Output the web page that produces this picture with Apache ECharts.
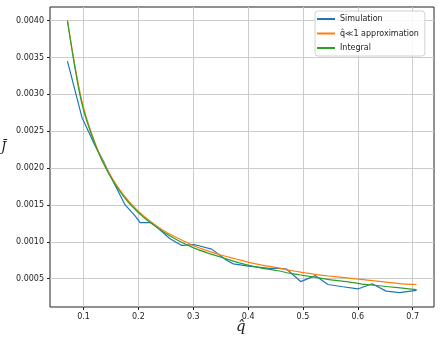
<!DOCTYPE html>
<html>
<head>
<meta charset="utf-8">
<script src="https://cdn.jsdelivr.net/npm/echarts@6/dist/echarts.min.js"></script>
<style>html,body{margin:0;padding:0;background:#fff}#c{width:441px;height:341px}</style>
</head>
<body>
<div id="c"></div>
<script>
// Theory curves (shared q grid)
const qTheory = [0.0707, 0.0961, 0.1216, 0.147, 0.1725, 0.1979, 0.2234, 0.2488, 0.2743, 0.2997, 0.3252, 0.3506, 0.3761, 0.4015, 0.427, 0.4524, 0.4779, 0.5033, 0.5288, 0.5542, 0.5797, 0.6051, 0.6306, 0.656, 0.6815, 0.707];
const approxJ = [0.00400, 0.00294, 0.00233, 0.00193, 0.00164, 0.00143, 0.00127, 0.00114, 0.00104, 0.00095, 0.00088, 0.00082, 0.00077, 0.00072, 0.00068, 0.00065, 0.00061, 0.00058, 0.00055, 0.00053, 0.00051, 0.00049, 0.00047, 0.00045, 0.00043, 0.00042];
const integralJ = [0.00400, 0.00290, 0.00231, 0.00191, 0.00162, 0.00141, 0.00125, 0.00112, 0.00101, 0.00092, 0.00085, 0.00079, 0.00073, 0.00068, 0.00064, 0.00061, 0.00057, 0.00054, 0.00051, 0.00048, 0.00046, 0.00043, 0.00041, 0.00039, 0.00037, 0.00035];
// Simulation
const simQ = [0.0707, 0.097, 0.1213, 0.136, 0.1545, 0.1758, 0.194, 0.203, 0.224, 0.2576, 0.279, 0.303, 0.3335, 0.3607, 0.373, 0.400, 0.4394, 0.4545, 0.4699, 0.4958, 0.5226, 0.5455, 0.5727, 0.600, 0.626, 0.6515, 0.6758, 0.707];
const simJ = [0.00345, 0.00269, 0.00230, 0.00210, 0.00181, 0.00150, 0.00135, 0.00126, 0.00126, 0.00104, 0.00095, 0.00096, 0.00090, 0.00075, 0.00070, 0.00067, 0.00064, 0.00064, 0.00063, 0.00046, 0.00054, 0.00042, 0.00039, 0.00036, 0.00043, 0.00033, 0.00031, 0.00034];
// Tick labels
const xTicks = [0.1, 0.2, 0.3, 0.4, 0.5, 0.6, 0.7];
const yTicks = [0.0005, 0.0010, 0.0015, 0.0020, 0.0025, 0.0030, 0.0035, 0.0040];
const seriesNames = ['Simulation', 'q\u0302\u226a1 approximation', 'Integral'];
const colors = ['#1f77b4', '#ff7f0e', '#2ca02c'];

const zip = (a, b) => a.map((v, i) => [v, b[i]]);
const font = 'DejaVu Sans';
const chart = echarts.init(document.getElementById('c'), null, {renderer: 'canvas'});
chart.setOption({
  animation: false,
  color: colors,
  grid: {left: 50, right: 7, top: 7, bottom: 34, show: true, borderColor: '#222', borderWidth: 1, backgroundColor: 'transparent'},
  xAxis: {
    type: 'value', min: 0.0389, max: 0.7388,
    axisLine: {show: false},
    axisTick: {show: true, length: 3, lineStyle: {color: '#222'}, customValues: xTicks},
    axisLabel: {margin: 6, fontFamily: font, fontSize: 8, color: '#222', customValues: xTicks, formatter: v => v.toFixed(1)},
    splitLine: {show: true, lineStyle: {color: '#cccccc', width: 1}, customValues: xTicks}
  },
  yAxis: {
    type: 'value', min: 0.000115, max: 0.004185,
    axisLine: {show: false},
    axisTick: {show: true, length: 3, lineStyle: {color: '#222'}, customValues: yTicks},
    axisLabel: {margin: 6, fontFamily: font, fontSize: 8, color: '#222', customValues: yTicks, formatter: v => v.toFixed(4)},
    splitLine: {show: true, lineStyle: {color: '#cccccc', width: 1}, customValues: yTicks}
  },
  legend: {
    orient: 'vertical', left: 315, top: 11,
    padding: [3, 6, 3, 2], itemGap: 4.5,
    itemWidth: 18, itemHeight: 2, icon: 'rect',
    backgroundColor: 'rgba(255,255,255,0.85)', borderColor: '#d0d0d0', borderWidth: 1, borderRadius: 3,
    textStyle: {fontFamily: font, fontSize: 8, color: '#222', lineHeight: 10},
    data: seriesNames
  },
  series: [
    {name: seriesNames[0], type: 'line', data: zip(simQ, simJ), showSymbol: false, lineStyle: {width: 1.2}, z: 3},
    {name: seriesNames[1], type: 'line', data: zip(qTheory, approxJ), showSymbol: false, smooth: 0.3, lineStyle: {width: 1.2}, z: 4},
    {name: seriesNames[2], type: 'line', data: zip(qTheory, integralJ), showSymbol: false, smooth: 0.3, lineStyle: {width: 1.2}, z: 5}
  ],
  graphic: [
    {type: 'text', left: 1, top: 141, style: {text: 'J\u0304', font: 'italic 13px "DejaVu Serif"', fill: '#222'}},
    {type: 'text', left: 236, top: 320, style: {text: 'q\u0302', font: 'italic 15px "DejaVu Serif"', fill: '#222'}}
  ]
});
</script>
</body>
</html>
